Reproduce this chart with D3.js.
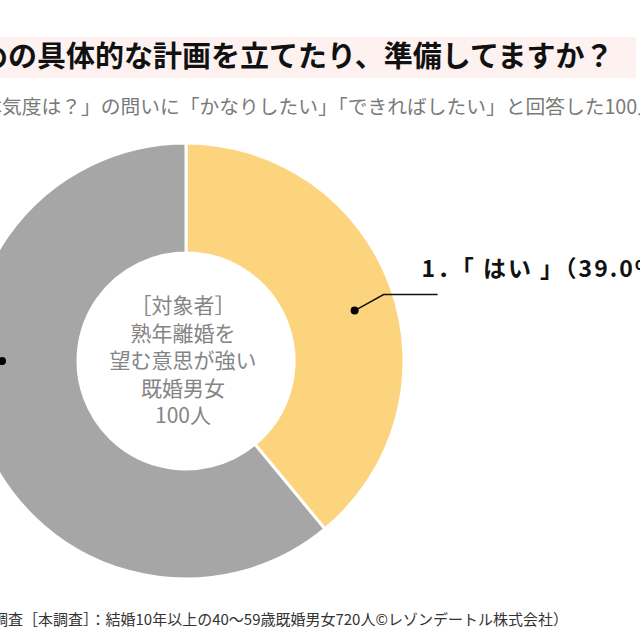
<!DOCTYPE html>
<html><head><meta charset="utf-8">
<script src="https://cdn.jsdelivr.net/npm/d3@7"></script>
<style>html,body{margin:0;padding:0;background:#fff;overflow:hidden}svg{display:block}</style>
</head><body>
<svg id="c" width="640" height="640"></svg>
<script>
const titlePrefix = "Q. 熟年離婚のた";
const titleText = "めの具体的な計画を立てたり、準備してますか？";
const subtitlePrefix = "「熟年離婚への本";
const subtitleText = "気度は？」の問いに「かなりしたい」「できればしたい」と回答した100人";
const footerPrefix = "（事前調査・";
const footerText = "調査［本調査］：結婚10年以上の40～59歳既婚男女720人©レゾンデートル株式会社）";
const centerLines = ["［対象者］", "熟年離婚を", "望む意思が強い", "既婚男女", "100人"];
const categories = ["1．「 はい 」", "2．「 いいえ 」"];
const values = [39.0, 61.0];
const colors = ["#FDD47E", "#A6A6A6"];

const svg = d3.select("#c");
const font = "'Noto Sans CJK JP','Noto Sans',sans-serif";

// text whose visible part starts at a given x (the prefix falls off the left edge)
function clippedText(prefix, text, visibleX, y, size, weight, fill) {
  const t = svg.append("text").attr("y", y)
    .attr("font-family", font).attr("font-size", size).attr("font-weight", weight).attr("fill", fill);
  t.append("tspan").text(prefix);
  t.append("tspan").text(text);
  const pw = t.select("tspan").node().getComputedTextLength();
  t.attr("x", visibleX - pw);
  return t;
}

// title band
svg.append("rect").attr("x", 0).attr("y", 37).attr("width", 636).attr("height", 41).attr("fill", "#FDF2F0");
clippedText(titlePrefix, titleText, -21, 67, 29, 700, "#111");
clippedText(subtitlePrefix, subtitleText, 2, 114, 19.75, 400, "#7a7a7a");
clippedText(footerPrefix, footerText, -7, 625, 15, 400, "#333");

const cx = 186, cy = 361, rOuter = 218, rInner = 108;
const g = svg.append("g").attr("transform", `translate(${cx},${cy})`);
const pie = d3.pie().sort(null).value(d => d)(values);
const arc = d3.arc().innerRadius(rInner).outerRadius(rOuter);
g.selectAll("path.slice").data(pie).join("path").attr("class", "slice")
  .attr("d", arc).attr("fill", (d, i) => colors[i])
  .attr("stroke", "#fff").attr("stroke-width", 3).attr("stroke-linejoin", "miter");

// center text
g.selectAll("text.center").data(centerLines).join("text").attr("class", "center")
  .attr("x", -3).attr("y", (d, i) => -48 + i * 27.5)
  .attr("text-anchor", "middle").attr("font-family", font).attr("font-size", 21).attr("fill", "#858585")
  .text(d => d);

// leader lines
const labelAngleShift = [0.055, 0.345];   // layout offsets (radians) relative to slice mid-angle
const labelRadius = [176, 184];
pie.forEach((p, i) => {
  const a = (p.startAngle + p.endAngle) / 2 + labelAngleShift[i];
  const px = labelRadius[i] * Math.sin(a), py = -labelRadius[i] * Math.cos(a);
  const dir = px >= 0 ? 1 : -1;
  const elbowX = px + dir * 29, elbowY = py - (i === 0 ? 16 : 0);
  const endX = elbowX + dir * 54;
  g.append("polyline").attr("points", `${px},${py} ${elbowX},${elbowY} ${endX},${elbowY}`)
    .attr("fill", "none").attr("stroke", "#111").attr("stroke-width", 1.5);
  g.append("circle").attr("cx", px).attr("cy", py).attr("r", 4).attr("fill", "#000");
  g.append("text").attr("x", endX + dir * -16).attr("y", elbowY - 18)
    .attr("text-anchor", dir > 0 ? "start" : "end")
    .attr("font-family", font).attr("font-weight", 700).attr("font-size", 23)
    .attr("letter-spacing", 2).attr("fill", "#111")
    .text(`${categories[i]}（${values[i].toFixed(1)}%）`);
});
</script>
</body></html>
